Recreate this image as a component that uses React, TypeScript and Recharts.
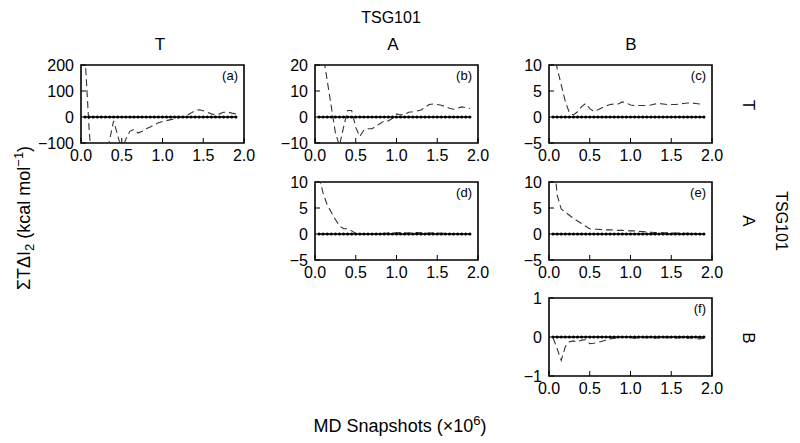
import React from 'react';
import { LineChart, Line, XAxis, YAxis, ReferenceArea } from 'recharts';

// MD snapshots (x10^6) sampled along each run
const snapshots = [
  0.05, 0.1, 0.15, 0.2, 0.25, 0.3, 0.35, 0.4, 0.45, 0.5, 0.55, 0.6, 0.65,
  0.7, 0.75, 0.8, 0.85, 0.9, 0.95, 1.0, 1.05, 1.1, 1.15, 1.2, 1.25, 1.3,
  1.35, 1.4, 1.45, 1.5, 1.55, 1.6, 1.65, 1.7, 1.75, 1.8, 1.85, 1.9,
];

const zeroLine = [
  0, 0, 0, 0, 0, 0, 0, 0, 0, 0, 0, 0, 0, 0, 0, 0, 0, 0, 0,
  0, 0, 0, 0, 0, 0, 0, 0, 0, 0, 0, 0, 0, 0, 0, 0, 0, 0, 0,
];

const dashedA = [
  230, -50, -250, -300, -250, -180, -90, -15, -70, -130, -85, -55, -48,
  -62, -55, -45, -38, -30, -22, -17, -14, -10, -8, -3, 2, 6,
  15, 25, 28, 24, 18, 12, 8, 12, 18, 19, 15, 12,
];
const dashedB = [
  34, 24, 14, 4, -6, -11, -4, 2.5, 2.5, -4, -7.5, -5, -4.5,
  -4.5, -3.5, -2.5, -1.5, -1.5, -0.5, 1.2, 0.8, 1, 1.8, 2, 2.3, 2.7,
  3.7, 4.8, 5, 4.8, 4.5, 4, 3.4, 3, 3.4, 3.9, 3.6, 3.3,
];
const dashedC = [
  12.5, 9.4, 6.2, 3, 0.8, 0.4, 1.0, 2, 2.6, 1.6, 1.1, 1.4, 1.8,
  2.1, 2.4, 2.5, 2.5, 2.9, 2.7, 2.3, 2.2, 2.2, 2.2, 2.2, 2.3, 2.5,
  2.6, 2.5, 2.4, 2.4, 2.4, 2.5, 2.6, 2.7, 2.7, 2.6, 2.5, 2.4,
];
const dashedD = [
  11, 7.8, 5.6, 4.2, 2.8, 1.6, 1.0, 1.0, 0.6, 0.1, -0.1, 0, 0,
  0.05, 0.1, 0.1, 0.15, 0.2, 0.2, 0.25, 0.3, 0.25, 0.2, 0.25, 0.3, 0.25,
  0.2, 0.2, 0.25, 0.2, 0.15, 0.1, 0.1, 0.05, 0.1, 0.05, 0, 0,
];
const dashedE = [
  16, 7.5, 4.8, 4.2, 3.6, 3.0, 2.5, 2.0, 1.5, 1.0, 0.9, 0.9, 0.85,
  0.8, 0.8, 0.75, 0.7, 0.7, 0.65, 0.6, 0.6, 0.5, 0.45, 0.4, 0.35, 0.3,
  0.3, 0.25, 0.25, 0.2, 0.2, 0.2, 0.15, 0.15, 0.15, 0.1, 0.1, 0.1,
];
const dashedF = [
  -0.02, -0.3, -0.6, -0.25, -0.12, -0.1, -0.13, -0.08, -0.07, -0.17, -0.16, -0.14, -0.11,
  -0.08, -0.05, -0.03, -0.02, -0.01, 0, -0.02, -0.03, -0.02, -0.02, -0.01, -0.02, -0.03,
  -0.02, -0.02, -0.01, -0.02, -0.03, -0.02, -0.02, -0.03, -0.02, -0.04, -0.05, -0.03,
];

const xTicks = [0, 0.5, 1, 1.5, 2];
const ticksA = [-100, 0, 100, 200];
const ticksB = [-10, 0, 10, 20];
const ticksSmall = [-5, 0, 5, 10];
const ticksF = [-1, 0, 1];

const rows = (vals: number[]) => snapshots.map((x, i) => ({ x, y: vals[i] }));

const FONT = '"Liberation Sans", Arial, sans-serif';
const BOX_W = 163;
const BOX_H = 78;
const AXIS_W = 48;
const AXIS_H = 26;
const PAD_TOP = 12;
const PAD_RIGHT = 14;

const minus = (v: number) => String(v).replace('-', '\u2212');

interface PanelProps {
  left: number;
  top: number;
  values: number[];
  domain: [number, number];
  ticks: number[];
  tag: string;
}

const Panel: React.FC<PanelProps> = ({ left, top, values, domain, ticks, tag }) => {
  const tickStyle = { fill: '#000', fontSize: 16, fontFamily: FONT };
  return (
    <>
      <div style={{ position: 'absolute', left: left - AXIS_W, top: top - PAD_TOP }}>
        <LineChart
          width={AXIS_W + BOX_W + PAD_RIGHT}
          height={PAD_TOP + BOX_H + AXIS_H}
          margin={{ top: PAD_TOP, right: PAD_RIGHT, bottom: 0, left: 0 }}
        >
          <XAxis
            dataKey="x"
            type="number"
            domain={[0, 2]}
            ticks={xTicks}
            interval={0}
            allowDataOverflow
            axisLine={false}
            tickSize={-5}
            tickMargin={12}
            height={AXIS_H}
            stroke="#000"
            tick={tickStyle}
            tickFormatter={(v: number) => v.toFixed(1)}
          />
          <YAxis
            type="number"
            domain={domain}
            ticks={ticks}
            interval={0}
            allowDataOverflow
            axisLine={false}
            tickSize={-5}
            tickMargin={12}
            width={AXIS_W}
            stroke="#000"
            tick={tickStyle}
            tickFormatter={minus}
          />
          <ReferenceArea
            x1={0}
            x2={2}
            y1={domain[0]}
            y2={domain[1]}
            fill="none"
            stroke="#000"
            strokeWidth={1.6}
          />
          <Line
            data={rows(zeroLine)}
            dataKey="y"
            type="linear"
            stroke="#000"
            strokeWidth={1.5}
            dot={{ r: 1.6, fill: '#000', stroke: 'none' }}
            isAnimationActive={false}
          />
          <Line
            data={rows(values)}
            dataKey="y"
            type="linear"
            stroke="#333"
            strokeWidth={1.1}
            strokeDasharray="7 4"
            dot={false}
            isAnimationActive={false}
          />
        </LineChart>
      </div>
      <div
        style={{
          position: 'absolute',
          left: left + BOX_W - 60,
          width: 54,
          top: top + 3,
          textAlign: 'right',
          fontSize: 13,
          fontFamily: FONT,
        }}
      >
        {tag}
      </div>
    </>
  );
};

const Label: React.FC<{ x: number; y: number; rotate?: number; size?: number; children: React.ReactNode }> = ({
  x,
  y,
  rotate = 0,
  size = 17,
  children,
}) => (
  <div
    style={{
      position: 'absolute',
      left: x,
      top: y,
      transform: `translate(-50%, -50%) rotate(${rotate}deg)`,
      whiteSpace: 'nowrap',
      fontSize: size,
      fontFamily: FONT,
      lineHeight: 1,
    }}
  >
    {children}
  </div>
);

const cols = [81, 315, 549];
const rowTops = [65, 182, 298];

export default function App() {
  return (
    <div
      style={{
        position: 'absolute',
        left: 0,
        top: 0,
        width: 800,
        height: 443,
        background: '#fff',
        fontFamily: FONT,
        overflow: 'hidden',
      }}
    >
      <Label x={391} y={18} size={16}>TSG101</Label>
      <Label x={160} y={44}>T</Label>
      <Label x={393} y={44}>A</Label>
      <Label x={631} y={44}>B</Label>

      <Label x={748} y={105} rotate={90}>T</Label>
      <Label x={748} y={221} rotate={90}>A</Label>
      <Label x={748} y={338} rotate={90}>B</Label>
      <Label x={781} y={221} rotate={90} size={16}>TSG101</Label>

      <Label x={24} y={218} rotate={-90} size={18}>
        ΣTΔI<sub style={{ fontSize: 13 }}>2</sub> (kcal mol<sup style={{ fontSize: 13 }}>−1</sup>)
      </Label>
      <Label x={400} y={424} size={18}>
        MD Snapshots (×10<sup style={{ fontSize: 13 }}>6</sup>)
      </Label>

      <Panel left={cols[0]} top={rowTops[0]} values={dashedA} domain={[-100, 200]} ticks={ticksA} tag="(a)" />
      <Panel left={cols[1]} top={rowTops[0]} values={dashedB} domain={[-10, 20]} ticks={ticksB} tag="(b)" />
      <Panel left={cols[2]} top={rowTops[0]} values={dashedC} domain={[-5, 10]} ticks={ticksSmall} tag="(c)" />
      <Panel left={cols[1]} top={rowTops[1]} values={dashedD} domain={[-5, 10]} ticks={ticksSmall} tag="(d)" />
      <Panel left={cols[2]} top={rowTops[1]} values={dashedE} domain={[-5, 10]} ticks={ticksSmall} tag="(e)" />
      <Panel left={cols[2]} top={rowTops[2]} values={dashedF} domain={[-1, 1]} ticks={ticksF} tag="(f)" />
    </div>
  );
}
